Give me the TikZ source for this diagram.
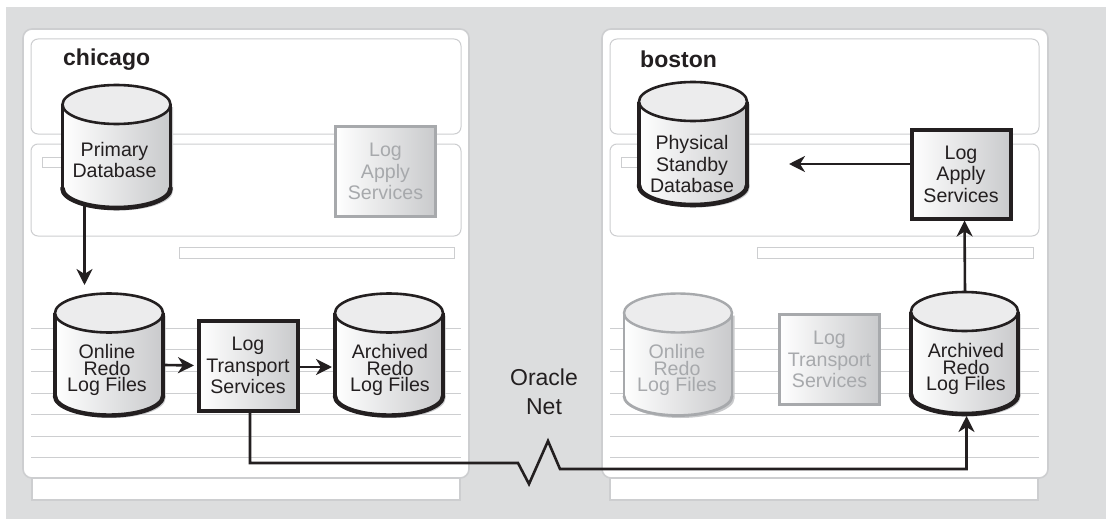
\documentclass[tikz,border=0pt]{standalone}
\usepackage{fontspec}
\setmainfont{Liberation Sans}
\usetikzlibrary{arrows.meta}
\definecolor{bggray}{HTML}{DCDDDE}
\definecolor{rulegray}{HTML}{CDCED0}
\definecolor{ink}{HTML}{231F20}
\definecolor{faded}{HTML}{A7A9AC}
\definecolor{capgray}{HTML}{ECECED}
\definecolor{shadegray}{HTML}{C9CACC}
\definecolor{shadowgray}{HTML}{C9CACC}
\tikzset{
  x=1pt,y=-1pt,
  host/.style={draw=rulegray,line width=1.6pt,fill=white,rounded corners=9pt},
  panel/.style={draw=rulegray,line width=1pt,fill=white,rounded corners=7pt},
  bar/.style={draw=rulegray,line width=1pt,fill=white},
  rowline/.style={draw=rulegray,line width=1pt},
  lbl/.style={font=\fontsize{19.6}{21.5}\selectfont,align=center,inner sep=0pt},
  tightlbl/.style={font=\fontsize{19.6}{16.3}\selectfont,align=center,inner sep=0pt},
  sitelbl/.style={font=\fontsize{23}{26}\selectfont\bfseries,text=ink,inner sep=0pt,anchor=base west},
  svc/.style={lbl,text=ink,draw=ink,line width=4pt,left color=white,middle color=white!92!shadegray,right color=shadegray,inner sep=0pt,outer sep=0pt},
  svcoff/.style={lbl,text=faded,draw=faded,line width=2.6pt,left color=white,middle color=white!92!shadegray,right color=shadegray,inner sep=0pt,outer sep=0pt},
  flow/.style={draw=ink,line width=2.6pt,-{Stealth[length=16pt,width=16pt,inset=5pt]}},
  anchorbox/.style={inner sep=0pt,outer sep=0pt},
}
% #1 name, #2 x0, #3 x1, #4 ytop, #5 ybot, #6 colour, #7 side width, #8 bottom width, #9 top width
\newcommand{\drumshape}[9]{%
  \pgfmathsetmacro{\dcx}{(#2+#3)/2}%
  \pgfmathsetmacro{\drx}{(#3-#2)/2}%
  \pgfmathsetmacro{\dry}{19.5}%
  \pgfmathsetmacro{\dkx}{\drx*0.5523}%
  \pgfmathsetmacro{\dky}{\dry*0.5523}%
  \pgfmathsetmacro{\dya}{#4+\dry}%
  \pgfmathsetmacro{\dyb}{#5-\dry}%
  \pgfmathsetmacro{\dybk}{\dyb+\dky}%
  \pgfmathsetmacro{\dxl}{\dcx-\dkx}%
  \pgfmathsetmacro{\dxr}{\dcx+\dkx}%
  \fill[shadowgray,xshift=2.5pt,yshift=-2.5pt] (#2,\dya) -- (#2,\dyb) .. controls (#2,\dybk) and (\dxl,#5) .. (\dcx,#5) .. controls (\dxr,#5) and (#3,\dybk) .. (#3,\dyb) -- (#3,\dya) -- cycle;
  \path[left color=white,middle color=white!92!shadegray,right color=shadegray] (#2,\dya) -- (#2,\dyb) .. controls (#2,\dybk) and (\dxl,#5) .. (\dcx,#5) .. controls (\dxr,#5) and (#3,\dybk) .. (#3,\dyb) -- (#3,\dya) -- cycle;
  \draw[#6,line width=#7pt] (#2,\dya) -- (#2,\dyb);
  \draw[#6,line width=#7pt] (#3,\dya) -- (#3,\dyb);
  \draw[#6,line width=#8pt,line cap=round] (#2,\dyb) .. controls (#2,\dybk) and (\dxl,#5) .. (\dcx,#5) .. controls (\dxr,#5) and (#3,\dybk) .. (#3,\dyb);
  \draw[#6,fill=capgray,line width=#9pt] (\dcx,\dya) ellipse [x radius=\drx pt,y radius=\dry pt];
  \pgfmathsetmacro{\dwd}{#3-#2}%
  \pgfmathsetmacro{\dht}{#5-#4}%
  \pgfmathsetmacro{\dcy}{(#4+#5)/2}%
  \node[anchorbox,minimum width=\dwd pt,minimum height=\dht pt] (#1) at (\dcx,\dcy) {};
}
\begin{document}
\begin{tikzpicture}
\useasboundingbox (0,0) rectangle (1106,519);
\fill[bggray] (6,7) rectangle (1106,519);

% chicago host
\draw[bar,line width=1.4pt] (32,470) rectangle (460,500);
\draw[host] (23,29) rectangle (469,478);
\draw[panel] (31,39) rectangle (461,134);
\draw[panel] (31,144) rectangle (461,236);
\draw[bar] (42,157) rectangle (70,167);
\draw[bar] (179,247) rectangle (454,258);
\foreach \yy in {328,349.5,371,393,414.5,436,457.5}
  \draw[rowline] (31,\yy) -- (461,\yy);

% boston host
\draw[bar,line width=1.4pt] (610,470) rectangle (1038,500);
\draw[host] (602,29) rectangle (1048,478);
\draw[panel] (610,39) rectangle (1039,134);
\draw[panel] (610,144) rectangle (1039,236);
\draw[bar] (621,157) rectangle (650,167);
\draw[bar] (757,247) rectangle (1033,258);
\foreach \yy in {328,349.5,371,393,414.5,436,457.5}
  \draw[rowline] (610,\yy) -- (1039,\yy);

\node[sitelbl] (chicagolbl) at (63,66) {chicago};
\node[sitelbl] (bostonlbl) at (640,67) {boston};

% cylinders
\drumshape{primary}{62.5}{170.5}{85}{208}{ink}{3.6}{4.6}{2.6}
\node[lbl,text=ink] (primarytxt) at (114.5,160) {Primary\\Database};
\drumshape{online}{55}{163}{293.5}{415.5}{ink}{3.6}{4.4}{2.6}
\node[tightlbl,text=ink] (onlinetxt) at (107,370) {Online\\Redo\\Log Files};
\drumshape{archived}{335}{443}{293.5}{415.5}{ink}{3.6}{4.4}{2.6}
\node[tightlbl,text=ink] (archivedtxt) at (390,370) {Archived\\Redo\\Log Files};
\drumshape{physical}{639}{747}{82}{205}{ink}{3.6}{4.6}{2.6}
\node[lbl,text=ink] (physicaltxt) at (692,164) {Physical\\Standby\\Database};
\drumshape{onlineoff}{624}{732}{293.5}{415.5}{faded}{2.8}{2.8}{2.4}
\node[tightlbl,text=faded] (onlineofftxt) at (677,370) {Online\\Redo\\Log Files};
\drumshape{archivedb}{911}{1018}{292}{414}{ink}{3.6}{4.6}{2.6}
\node[tightlbl,text=ink] (archivedbtxt) at (966,369) {Archived\\Redo\\Log Files};

% service boxes
\node[svc,minimum width=99pt,minimum height=90pt] (transport) at (248,365.5) {Log\\Transport\\Services};
\node[svcoff,minimum width=100pt,minimum height=90pt] (applyoff) at (385.5,171.5) {Log\\Apply\\Services};
\node[svc,minimum width=99pt,minimum height=89pt] (apply) at (961,174) {Log\\Apply\\Services};
\node[svcoff,minimum width=100pt,minimum height=90pt] (transportoff) at (829.5,359.5) {Log\\Transport\\Services};

\node[font=\fontsize{23}{29}\selectfont,align=center,text=ink,inner sep=0pt] (net) at (544,392) {Oracle\\Net};

% connectors
\coordinate (drop) at (84.5,285);
\draw[flow] ([xshift=-32pt,yshift=3pt]primary.south) -- (drop);
\draw[flow] ([yshift=-10.5pt,xshift=1.5pt]online.east) -- ([xshift=-4.5pt]transport.west);
\draw[flow] ([yshift=-1.5pt,xshift=1.5pt]transport.east) -- ([yshift=-12.5pt,xshift=-3pt]archived.west);
\coordinate (z1) at (518,463);
\coordinate (z2) at (529,484);
\coordinate (z3) at (548,441);
\coordinate (z4) at (560,469);
\coordinate (rise) at (966.5,469);
\draw[flow] ([xshift=2pt]transport.south) |- (z1) -- (z2) -- (z3) -- (z4) -- (rise) -- ([yshift=-2pt]archivedb.south -| rise);
\coordinate (physhead) at (789,164);
\draw[flow] ([yshift=10pt]apply.west) -- (physhead);
\draw[flow] ([xshift=.5pt]archivedb.north) -- ([xshift=3.5pt,yshift=-2pt]apply.south);
\end{tikzpicture}
\end{document}
